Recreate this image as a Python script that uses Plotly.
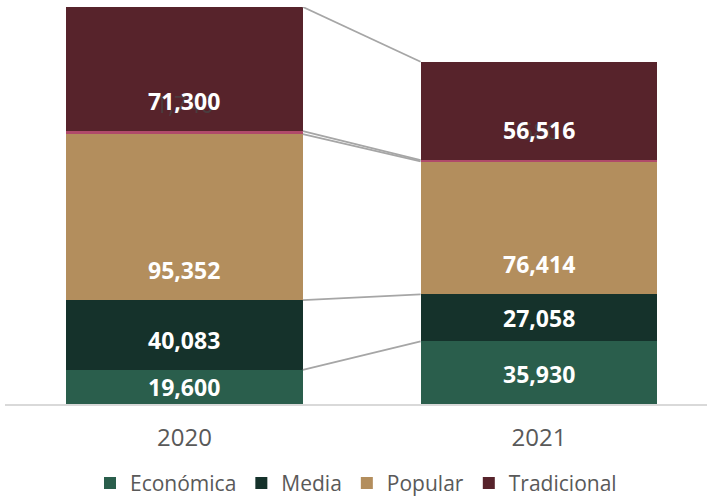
import plotly.graph_objects as go

# Viviendas por segmento y año
years = ["2020", "2021"]
economica = [19600, 35930]
media = [40083, 27058]
popular = [95352, 76414]
otros = [1740, 680]          # segmento menor, sin leyenda
tradicional = [71300, 56516]

series = [
    ("Económica", economica, "#2A5E4C", True),
    ("Media", media, "#15322B", True),
    ("Popular", popular, "#B38E5D", True),
    ("Otros", otros, "#B04A6A", False),
    ("Tradicional", tradicional, "#57232B", True),
]

W, H = 707, 498
M_L, M_R, M_T, M_B = 5, 0, 7, 94
BAR_W = 0.668
X_RANGE = [-0.5063, 1.4739]

totals = [sum(vals[i] for _, vals, _, _ in series) for i in range(len(years))]
y_max = max(totals)
plot_h = H - M_T - M_B
px_per_unit = plot_h / y_max
lift = 30 / px_per_unit       # distance from segment base to label centre

fig = go.Figure()
annotations = []
bases = [0.0] * len(years)
levels = []  # cumulative tops for the connector lines

for name, vals, color, in_legend in series:
    fig.add_trace(go.Bar(
        name=name, x=[0, 1], y=vals, width=BAR_W,
        marker=dict(color=color, line=dict(width=0)),
        showlegend=in_legend, hoverinfo="skip",
    ))
    for i, v in enumerate(vals):
        if in_legend:
            y_lab = bases[i] + min(v / 2, lift)
            font = dict(family="Open Sans", size=23, color="white")
            label = f"<b>{v:,}</b>"
        else:
            y_lab = bases[i] + lift
            font = dict(family="Open Sans", size=23, color="rgba(70,70,70,0.75)")
            label = f"{v:,}"
        annotations.append(dict(
            x=i, y=y_lab, xref="x", yref="y", text=label, showarrow=False,
            font=font, xanchor="center", yanchor="middle",
        ))
    bases = [b + v for b, v in zip(bases, vals)]
    levels.append(list(bases))

# Connector lines between the stacked bars
x_left = 0 + BAR_W / 2
x_right = 1 - BAR_W / 2
for lv in levels:
    fig.add_trace(go.Scatter(
        x=[x_left, x_right], y=[lv[0], lv[1]], mode="lines",
        line=dict(color="#A6A6A6", width=1.8), showlegend=False, hoverinfo="skip",
    ))

# Thin-segment labels first so the main labels sit on top
annotations.sort(key=lambda a: "<b>" in a["text"])

fig.update_layout(
    width=W, height=H,
    barmode="stack",
    bargap=0,
    plot_bgcolor="white", paper_bgcolor="white",
    margin=dict(l=M_L, r=M_R, t=M_T, b=M_B, autoexpand=False),
    annotations=annotations,
    xaxis=dict(
        range=X_RANGE, tickmode="array", tickvals=[0, 1], ticktext=years,
        showline=True, linecolor="#D9D9D9", linewidth=1.5,
        showgrid=False, zeroline=False, ticks="",
        ticklabelstandoff=11, automargin=False,
        tickfont=dict(family="Open Sans", size=24, color="#595959"),
    ),
    yaxis=dict(range=[0, y_max], visible=False, showgrid=False, zeroline=False,
               automargin=False),
    legend=dict(
        orientation="h", x=0.5, xanchor="center", y=-0.148, yanchor="top",
        font=dict(family="Open Sans", size=21, color="#595959"),
        itemwidth=30, traceorder="normal",
    ),
    showlegend=True,
)

fig.write_html("out.html")
